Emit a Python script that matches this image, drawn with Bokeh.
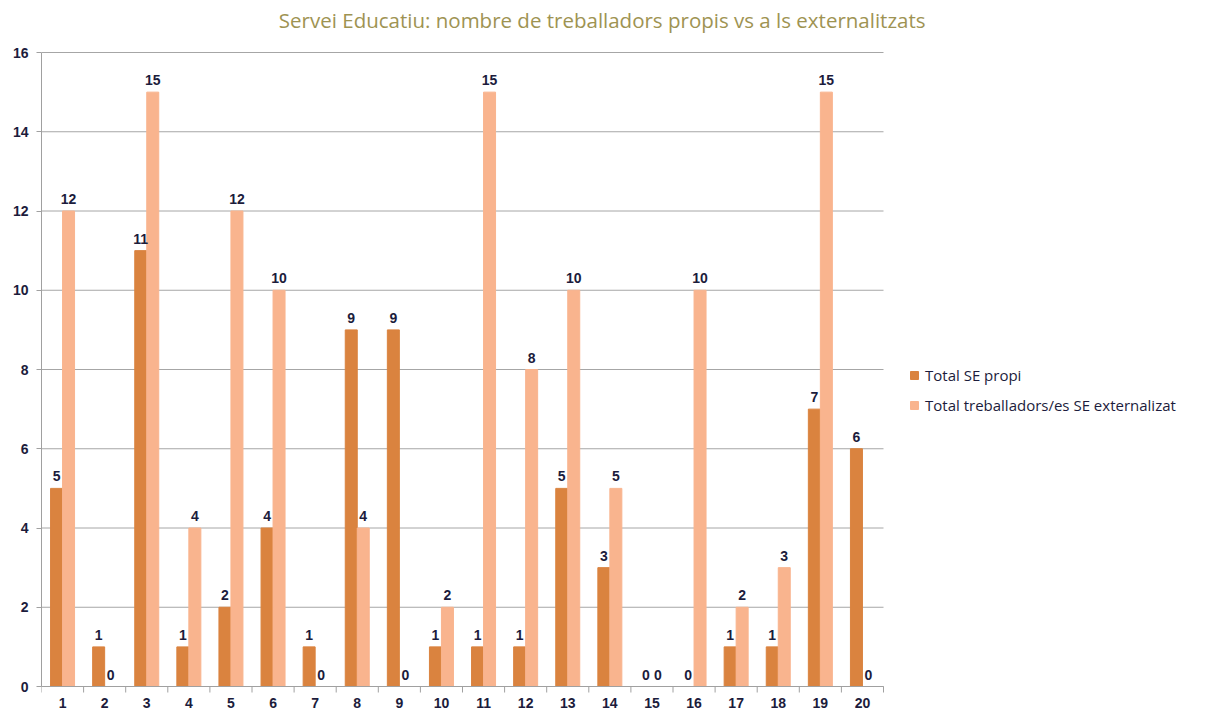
from bokeh.plotting import figure
from bokeh.models import ColumnDataSource, FixedTicker, Legend, LegendItem, Label, Range1d
from bokeh.transform import dodge
from bokeh.core.properties import value
from bokeh.embed import file_html
from bokeh.resources import INLINE

categories = list(range(1, 21))
propi = [5, 1, 11, 1, 2, 4, 1, 9, 9, 1, 1, 1, 5, 3, 0, 0, 1, 1, 7, 6]
externalitzat = [12, 0, 15, 4, 12, 10, 0, 4, 0, 2, 15, 8, 10, 5, 0, 10, 2, 3, 15, 0]
y_ticks = [0, 2, 4, 6, 8, 10, 12, 14, 16]
title_text = "Servei  Educatiu: nombre de treballadors propis  vs a ls externalitzats"

src = ColumnDataSource(dict(
    x=categories,
    xlab=[str(c) for c in categories],
    propi=propi,
    ext=externalitzat,
    propi_t=[str(v) for v in propi],
    ext_t=[str(v) for v in externalitzat],
))

DARK = "#DA833F"
LIGHT = "#F9B48E"
TXT = "#1C1C3C"
FONT = "Liberation Sans"
GRID = "#A6A6A6"
AXIS = "#A0A0A0"

W = 1200
H = 712
LEFT = 41
n = len(categories)
x_lo = 0.5
x_hi_data = n + 0.5
cat_px = (883 - LEFT) / n
x_hi_view = x_lo + (W - LEFT) / cat_px
y_max = y_ticks[-1]
y_top_px, y_zero_px = 52, 686
ppu = (y_zero_px - y_top_px) / y_max      # pixels per y unit
y_hi_view = y_max + y_top_px / ppu
y_lo_view = -(H - y_zero_px) / ppu

p = figure(width=W, height=H, output_backend="svg", toolbar_location=None,
           x_range=Range1d(x_lo, x_hi_view), y_range=Range1d(y_lo_view, y_hi_view),
           x_axis_location=None,
           min_border_left=LEFT, min_border_right=0, min_border_top=0, min_border_bottom=0)
p.outline_line_color = None
p.background_fill_color = "white"
p.border_fill_color = "white"
p.xgrid.visible = False
p.ygrid.visible = False

# horizontal gridlines only across the category area
p.segment(x0=[x_lo] * len(y_ticks), x1=[x_hi_data] * len(y_ticks), y0=y_ticks, y1=y_ticks,
          line_color=GRID, line_width=1)

w = 0.285
r1 = p.vbar(x=dodge("x", -w / 2, range=p.x_range), top="propi", width=w, source=src,
            fill_color=DARK, line_color=DARK)
r2 = p.vbar(x=dodge("x", w / 2, range=p.x_range), top="ext", width=w, source=src,
            fill_color=LIGHT, line_color=LIGHT)

p.text(x=dodge("x", -w / 2, range=p.x_range), y="propi", text="propi_t", source=src,
       text_align="center", text_baseline="bottom", y_offset=-7,
       text_font=value(FONT), text_font_style="bold", text_font_size="14px", text_color=TXT)
p.text(x=dodge("x", w / 2, range=p.x_range), y="ext", text="ext_t", source=src,
       text_align="center", text_baseline="bottom", y_offset=-7,
       text_font=value(FONT), text_font_style="bold", text_font_size="14px", text_color=TXT)

# category axis (drawn inside the frame)
bounds = [c + 0.5 for c in [0] + categories]
p.segment(x0=[x_lo], x1=[x_hi_data], y0=[0], y1=[0], line_color=AXIS, line_width=1)
p.segment(x0=bounds, x1=bounds, y0=[0] * len(bounds), y1=[-6 / ppu] * len(bounds),
          line_color=AXIS, line_width=1)
p.text(x="x", y=value(0), text="xlab", source=src, text_align="center",
       text_baseline="middle", y_offset=16,
       text_font=value(FONT), text_font_style="bold", text_font_size="14px", text_color=TXT)

# value axis
p.yaxis.ticker = FixedTicker(ticks=y_ticks, minor_ticks=[])
p.yaxis.bounds = (0, y_max)
p.yaxis.axis_line_color = AXIS
p.yaxis.major_tick_line_color = AXIS
p.yaxis.major_tick_out = 5
p.yaxis.major_tick_in = 0
p.yaxis.minor_tick_line_color = None
p.yaxis.major_label_standoff = 8
p.yaxis.major_label_text_font = FONT
p.yaxis.major_label_text_font_style = "bold"
p.yaxis.major_label_text_font_size = "14px"
p.yaxis.major_label_text_color = TXT

legend = Legend(items=[LegendItem(label="Total SE propi", renderers=[r1]),
                       LegendItem(label="Total treballadors/es SE externalizat", renderers=[r2])],
                location=(868, 297), border_line_color=None, background_fill_alpha=0,
                label_text_font="Open Sans", label_text_font_size="15px", label_text_color=TXT,
                glyph_width=10, glyph_height=10, spacing=10, label_standoff=6, padding=10)
p.add_layout(legend, "center")

title = Label(x=x_lo + (607 - LEFT) / cat_px, y=y_max + (y_top_px - 19) / ppu, text=title_text,
              text_align="center", text_baseline="middle",
              text_font="Open Sans", text_font_size="20.5px", text_color="#9E9352")
p.add_layout(title)

open("out.html", "w").write(file_html(p, INLINE))
